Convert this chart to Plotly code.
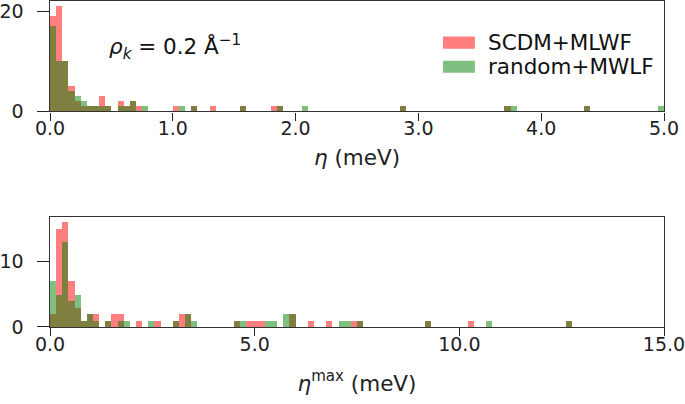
import plotly.graph_objects as go
from plotly.subplots import make_subplots

# ---- data (histogram bin left edges and counts) ----
# top panel: eta (meV), bin width 0.05
top_bin_width = 0.05
top_scdm_edges = [0.00, 0.05, 0.10, 0.15, 0.20, 0.25, 0.30, 0.35, 0.40, 0.45, 0.55, 0.60, 0.65, 0.70,
                  1.00, 1.15, 1.30, 1.55, 1.80, 1.85, 2.85, 3.70, 4.35]
top_scdm_counts = [19, 21, 10, 5, 2, 1, 1, 1, 3, 1, 2, 1, 2, 1,
                   1, 1, 1, 1, 1, 1, 1, 1, 1]
top_rand_edges = [0.00, 0.05, 0.10, 0.15, 0.20, 0.25, 0.30, 0.35, 0.40, 0.45, 0.55, 0.60, 0.65, 0.75,
                  1.05, 1.15, 1.55, 1.85, 2.05, 2.85, 3.70, 3.75, 4.35, 4.95]
top_rand_counts = [17, 10, 10, 4, 3, 2, 1, 1, 1, 1, 1, 1, 2, 1,
                   1, 1, 1, 1, 1, 1, 1, 1, 1, 1]

# bottom panel: eta^max (meV), bin width 0.15
bot_bin_width = 0.15
bot_scdm_edges = [0.00, 0.15, 0.30, 0.45, 0.60, 0.75, 0.90, 1.05, 1.35, 1.50, 1.65, 2.10, 2.55,
                  3.00, 3.15, 3.30, 4.50, 4.80, 4.95, 5.10, 5.85, 6.30, 6.75, 7.35, 7.50,
                  9.15, 10.20, 12.60]
bot_scdm_counts = [2, 15, 16, 7, 3, 1, 2, 2, 1, 2, 2, 1, 1,
                   1, 2, 2, 1, 1, 1, 1, 2, 1, 1, 1, 1,
                   1, 1, 1]
bot_rand_edges = [0.00, 0.15, 0.30, 0.45, 0.60, 0.75, 0.90, 1.05, 1.35, 1.65, 1.80, 2.40,
                  3.00, 3.30, 3.45, 4.50, 4.65, 5.25, 5.40, 5.70, 5.85, 7.05, 7.20, 7.50,
                  9.15, 10.65, 12.60]
bot_rand_counts = [7, 5, 13, 4, 5, 1, 2, 1, 1, 1, 1, 1,
                   1, 2, 1, 1, 1, 1, 1, 2, 2, 1, 1, 1,
                   1, 1, 1]

series_names = ["SCDM+MLWF", "random+MWLF"]
top_xticks = [0, 1, 2, 3, 4, 5]
top_xticklabels = ["0.0", "1.0", "2.0", "3.0", "4.0", "5.0"]
bot_xticks = [0, 5, 10, 15]
bot_xticklabels = ["0.0", "5.0", "10.0", "15.0"]
top_yticks = [0, 20]
bot_yticks = [0, 10]

RED = "rgba(255,0,0,0.5)"
GREEN = "rgba(0,128,0,0.5)"
FONT = "DejaVu Sans"
FS = 19
FS_BIG = 21.5
YPAD = "\u2002"  # keeps y tick labels clear of the spine, as in the reference

fig = make_subplots(rows=2, cols=1, vertical_spacing=0.0)

def add_hist(edges, counts, width, color, name, row):
    fig.add_trace(go.Bar(x=edges, y=counts, width=width, offset=0, name=name,
                         marker=dict(color=color, line=dict(width=0)),
                         showlegend=False), row=row, col=1)

add_hist(top_scdm_edges, top_scdm_counts, top_bin_width, RED, series_names[0], 1)
add_hist(top_rand_edges, top_rand_counts, top_bin_width, GREEN, series_names[1], 1)
add_hist(bot_scdm_edges, bot_scdm_counts, bot_bin_width, RED, series_names[0], 2)
add_hist(bot_rand_edges, bot_rand_counts, bot_bin_width, GREEN, series_names[1], 2)

axis_common = dict(showline=True, linecolor="#333333", linewidth=1.3, mirror=True,
                   ticks="outside", tickwidth=1.3, tickcolor="#222222",
                   showgrid=False, zeroline=False, automargin=False,
                   ticklabeloverflow="allow",
                   tickfont=dict(family=FONT, size=FS, color="#222222"))

fig.update_xaxes(**axis_common, ticklen=8, ticklabelstandoff=-8)
fig.update_yaxes(**axis_common, ticklen=12)

fig.update_xaxes(row=1, col=1, range=[0, 5], tickvals=top_xticks, ticktext=top_xticklabels,
                 domain=[0, 1],
                 title=dict(text="<i>η</i> (meV)", font=dict(family=FONT, size=FS_BIG, color="#222222"),
                            standoff=11))
fig.update_yaxes(row=1, col=1, range=[0, 22.05], tickvals=top_yticks,
                 ticktext=[str(v) + YPAD for v in top_yticks], domain=[0.6615, 1.0])
fig.update_xaxes(row=2, col=1, range=[0, 15], tickvals=bot_xticks, ticktext=bot_xticklabels,
                 title=dict(text="<i>η</i><sup>max</sup> (meV)",
                            font=dict(family=FONT, size=FS_BIG, color="#222222"), standoff=21))
fig.update_yaxes(row=2, col=1, range=[0, 16.8], tickvals=bot_yticks,
                 ticktext=[str(v) + YPAD for v in bot_yticks], domain=[0.0, 0.3385])

# annotation rho_k
fig.add_annotation(xref="x domain", yref="y domain", x=0.093, y=0.585, xanchor="left",
                   yanchor="middle", showarrow=False,
                   text="<i>ρ<sub>k</sub></i> = 0.2 Å<sup>−1</sup>",
                   font=dict(family=FONT, size=FS_BIG, color="#111111"))

# legend drawn as patches + labels in the top panel
legend_colors = [RED, GREEN]
legend_y = [(0.568, 0.678), (0.349, 0.459)]
for name, col, (y0, y1) in zip(series_names, legend_colors, legend_y):
    fig.add_shape(type="rect", xref="x domain", yref="y domain", x0=0.640, x1=0.692,
                  y0=y0, y1=y1, fillcolor=col, line=dict(width=0))
    fig.add_annotation(xref="x domain", yref="y domain", x=0.710, y=(y0 + y1) / 2,
                       xanchor="left", yanchor="middle", showarrow=False, text=name,
                       font=dict(family=FONT, size=FS_BIG, color="#111111"))

fig.update_layout(width=685, height=404, barmode="overlay", bargap=0,
                  plot_bgcolor="white", paper_bgcolor="white",
                  margin=dict(l=50, r=21, t=1, b=77), showlegend=False)

fig.write_html("out.html", config={"displayModeBar": False},
               post_script="document.body.style.margin='0px';")
